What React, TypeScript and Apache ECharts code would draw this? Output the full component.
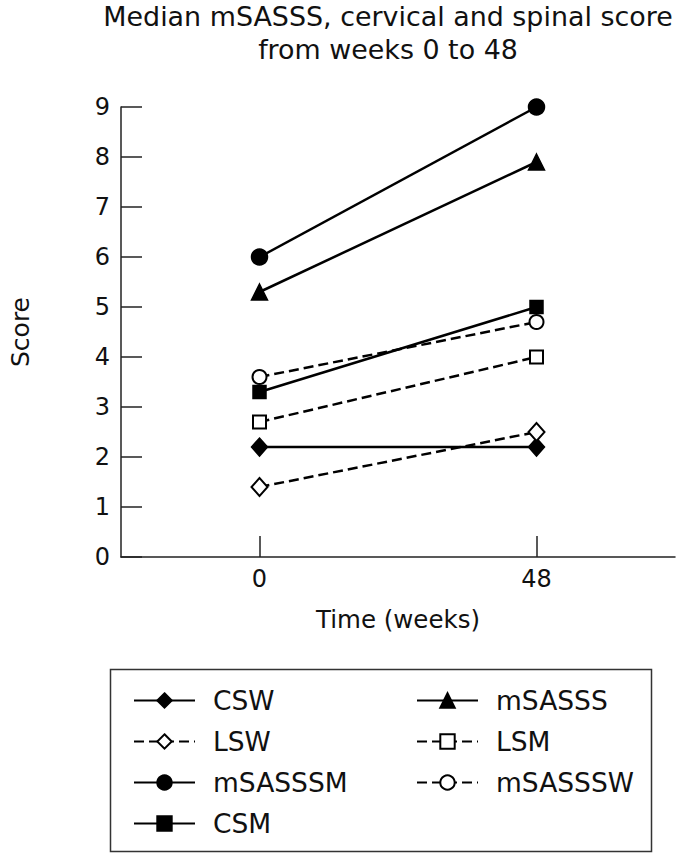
import React, { useEffect, useRef } from "react";
import * as echarts from "echarts";

const weeks = [0, 48];
const seriesNames = ["CSW", "mSASSS", "LSW", "LSM", "mSASSSM", "mSASSSW", "CSM"];
const cswValues = [2.2, 2.2];
const lswValues = [1.4, 2.5];
const msasssmValues = [6.0, 9.0];
const csmValues = [3.3, 5.0];
const msasssValues = [5.3, 7.9];
const lsmValues = [2.7, 4.0];
const msassswValues = [3.6, 4.7];
const yTicks = [0, 1, 2, 3, 4, 5, 6, 7, 8, 9];
const xTickLabels = ["0", "48"];

const FONT = "'DejaVu Sans', 'Open Sans', sans-serif";

export default function App() {
  const ref = useRef<HTMLDivElement>(null);
  useEffect(() => {
    document.body.style.margin = "0";
    if (!ref.current) return;
    const chart = echarts.init(ref.current, null, { renderer: "svg" });
    const pts = (vals: number[]) => weeks.map((w, i) => [w, vals[i]]);
    const mk = (
      name: string,
      vals: number[],
      symbol: string,
      symbolSize: number | number[],
      dashed: boolean
    ) => ({
      name,
      type: "line",
      data: pts(vals),
      symbol,
      symbolSize,
      showAllSymbol: true,
      color: "#000",
      lineStyle: {
        color: "#000",
        width: 2.5,
        type: dashed ? [10, 5] : "solid",
      },
      itemStyle: { color: "#000", borderColor: "#000", borderWidth: 1.5 },
      emphasis: { disabled: true },
    });
    const legendText = {
      fontFamily: FONT,
      fontSize: 26.5,
      color: "#111",
      padding: [0, 0, 0, 13],
      lineHeight: 26,
    };
    const legendCommon = {
      orient: "vertical",
      top: 682,
      itemWidth: 61,
      itemHeight: 18,
      itemGap: 14,
      textStyle: legendText,
      selectedMode: false,
    };
    chart.setOption({
      animation: false,
      backgroundColor: "#fff",
      title: {
        text: "Median mSASSS, cervical and spinal score\nfrom weeks 0 to 48",
        left: 388,
        top: 0,
        padding: 0,
        textAlign: "center",
        textStyle: {
          fontFamily: FONT,
          fontSize: 26.9,
          fontWeight: "normal",
          color: "#111",
          lineHeight: 33,
        },
      },
      grid: { left: 97, right: 1, top: 107, bottom: 296, containLabel: false },
      xAxis: {
        type: "value",
        min: -24,
        max: 72,
        name: "Time (weeks)",
        nameLocation: "middle",
        nameGap: 50,
        nameTextStyle: { fontFamily: FONT, fontSize: 24.5, color: "#111" },
        axisLine: { show: true, onZero: false, lineStyle: { color: "#222", width: 1.5 } },
        axisTick: {
          show: true,
          inside: true,
          length: 21,
          customValues: weeks,
          lineStyle: { color: "#222", width: 1.5 },
        },
        axisLabel: {
          customValues: weeks,
          formatter: (v: number) => xTickLabels[weeks.indexOf(v)] ?? "",
          fontFamily: FONT,
          fontSize: 24,
          color: "#111",
          margin: 10,
        },
        splitLine: { show: false },
      },
      yAxis: {
        type: "value",
        min: 0,
        max: 9,
        interval: 1,
        name: "Score",
        nameLocation: "middle",
        nameGap: 88,
        nameRotate: 90,
        nameTextStyle: { fontFamily: FONT, fontSize: 25, color: "#111" },
        axisLine: { show: true, onZero: false, lineStyle: { color: "#222", width: 1.5 } },
        axisTick: {
          show: true,
          inside: true,
          length: 21,
          lineStyle: { color: "#222", width: 1.5 },
        },
        axisLabel: {
          formatter: (v: number) => (yTicks.includes(v) ? String(v) : ""),
          fontFamily: FONT,
          fontSize: 24,
          color: "#111",
          margin: 11,
        },
        splitLine: { show: false },
      },
      legend: [
        { ...legendCommon, data: ["CSW", "LSW", "mSASSSM", "CSM"], left: 128 },
        { ...legendCommon, data: ["mSASSS", "LSM", "mSASSSW"], left: 411 },
      ],
      graphic: [
        {
          type: "rect",
          shape: { x: 110.5, y: 669.5, width: 541, height: 182 },
          style: { fill: "none", stroke: "#333", lineWidth: 1.5 },
          silent: true,
        },
      ],
      series: [
        mk(seriesNames[0], cswValues, "diamond", [16, 18], false),
        mk(seriesNames[1], msasssValues, "triangle", 16, false),
        mk(seriesNames[2], lswValues, "emptyDiamond", [16, 18], true),
        mk(seriesNames[3], lsmValues, "emptyRect", 13, true),
        mk(seriesNames[4], msasssmValues, "circle", 16, false),
        mk(seriesNames[5], msassswValues, "emptyCircle", 14, true),
        mk(seriesNames[6], csmValues, "rect", 13, false),
      ],
    });
    return () => chart.dispose();
  }, []);
  return <div ref={ref} style={{ width: 676, height: 853 }} />;
}
